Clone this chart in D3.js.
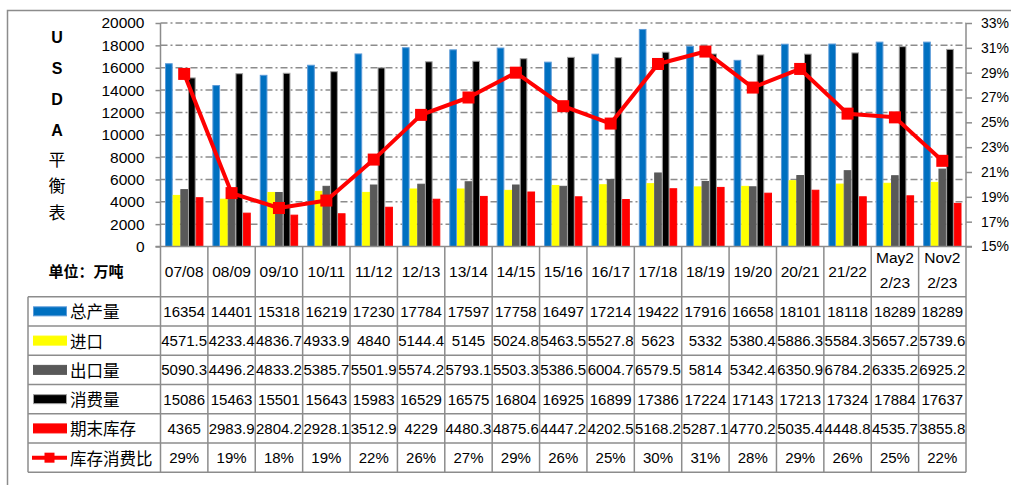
<!DOCTYPE html>
<html>
<head>
<meta charset="utf-8">
<script src="https://cdn.jsdelivr.net/npm/d3@7"></script>
<style>
  body { margin: 0; background: #fff; }
  svg { display: block; }
</style>
</head>
<body>
<svg id="chart" width="1011" height="485"></svg>
<script>
// Marketing years (last two columns are the May and Nov estimates for 22/23)
const seasons = ["07/08","08/09","09/10","10/11","11/12","12/13","13/14","14/15","15/16",
                 "16/17","17/18","18/19","19/20","20/21","21/22","May22/23","Nov22/23"];

// Balance sheet rows, 万吨
const production   = [16354,14401,15318,16219,17230,17784,17597,17758,16497,17214,19422,17916,16658,18101,18118,18289,18289];
const imports      = [4571.5,4233.4,4836.7,4933.9,4840,5144.4,5145,5024.8,5463.5,5527.8,5623,5332,5380.4,5886.3,5584.3,5657.2,5739.6];
const exports      = [5090.3,4496.2,4833.2,5385.7,5501.9,5574.2,5793.1,5503.3,5386.5,6004.7,6579.5,5814,5342.4,6350.9,6784.2,6335.2,6925.2];
const consumption  = [15086,15463,15501,15643,15983,16529,16575,16804,16925,16899,17386,17224,17143,17213,17324,17884,17637];
const endingStocks = [4365,2983.9,2804.2,2928.1,3512.9,4229,4480.3,4875.6,4447.2,4202.5,5168.2,5287.1,4770.2,5035.4,4448.8,4535.7,3855.8];
// Stocks-to-use ratio
const stockRatio   = [0.289,0.193,0.181,0.187,0.220,0.256,0.270,0.290,0.263,0.249,0.297,0.307,0.278,0.293,0.257,0.254,0.219];

const seriesNames = ["总产量","进口","出口量","消费量","期末库存","库存消费比"];
const leftTicks   = [0,2000,4000,6000,8000,10000,12000,14000,16000,18000,20000];
const rightTicks  = [0.15,0.17,0.19,0.21,0.23,0.25,0.27,0.29,0.31,0.33];
const titleText   = "USDA平衡表";
const unitText    = "单位：万吨";

const barSeries = [
  { name: seriesNames[0], values: production,   fill: "#0070c0", stroke: "#5a9ad8" },
  { name: seriesNames[1], values: imports,      fill: "#ffff00", stroke: "#ffff00" },
  { name: seriesNames[2], values: exports,      fill: "#595959", stroke: "#595959" },
  { name: seriesNames[3], values: consumption,  fill: "#000000", stroke: "#a0a0a0" },
  { name: seriesNames[4], values: endingStocks, fill: "#ff0000", stroke: "#ff0000" }
];

const svg = d3.select("#chart");
const GRID = "#8c8c8c";
const NUM_FONT = "'Liberation Sans', Arial, sans-serif";
const CJK_FONT = "'Noto Sans CJK SC', sans-serif";

// layout
const plotL = 160.5, plotR = 966, plotT = 23, plotB = 246.5;
const tableL = 28, headerB = 296.7, rowH = 29.27;
const tableB = headerB + rowH * 6;

const x = d3.scaleBand().domain(seasons).range([plotL, plotR]).paddingInner(0).paddingOuter(0);
const inner = d3.scaleBand().domain(barSeries.map(s => s.name)).range([4.5, x.bandwidth() - 4.5]);
const yL = d3.scaleLinear().domain([0, 20000]).range([plotB, plotT]);
const yR = d3.scaleLinear().domain([0.15, 0.33]).range([plotB, plotT]);

// outer frame
svg.append("rect").attr("x", 7.5).attr("y", 10.5).attr("width", 1010).attr("height", 480)
  .attr("fill", "none").attr("stroke", GRID).attr("stroke-width", 1.5);

// dash-dot gridlines
svg.append("g").selectAll("line").data(leftTicks.filter(t => t > 0)).join("line")
  .attr("x1", plotL).attr("x2", plotR)
  .attr("y1", d => yL(d)).attr("y2", d => yL(d))
  .attr("stroke", GRID).attr("stroke-width", 1.5).attr("stroke-dasharray", "7,3,2,3");

// left axis
const axL = svg.append("g").attr("transform", `translate(${plotL},0)`)
  .call(d3.axisLeft(yL).tickValues(leftTicks).tickSize(5).tickPadding(11).tickFormat(d3.format("d")));
axL.select(".domain").remove();
axL.selectAll("line").attr("stroke", GRID).attr("stroke-width", 1.5);
axL.selectAll("text").attr("font-family", NUM_FONT).attr("font-size", 15.5).attr("fill", "#000");

// right axis
const axR = svg.append("g").attr("transform", `translate(${plotR},0)`)
  .call(d3.axisRight(yR).tickValues(rightTicks).tickSize(6).tickPadding(9).tickFormat(d3.format(".0%")));
axR.select(".domain").remove();
axR.selectAll("line").attr("stroke", GRID).attr("stroke-width", 1.5);
axR.selectAll("text").attr("font-family", NUM_FONT).attr("font-size", 14).attr("fill", "#000");

// bars
const barG = svg.append("g");
barSeries.forEach(s => {
  barG.append("g").selectAll("rect").data(seasons).join("rect")
    .attr("x", (d) => x(d) + inner(s.name) + 0.5)
    .attr("width", inner.bandwidth() - 1)
    .attr("y", (d, i) => yL(s.values[i]))
    .attr("height", (d, i) => plotB - yL(s.values[i]))
    .attr("fill", s.fill).attr("stroke", s.stroke).attr("stroke-width", 1);
});

// table and axis lines
const lines = svg.append("g").attr("stroke", GRID).attr("stroke-width", 1.5);
lines.append("line").attr("x1", plotL - 5).attr("x2", plotR + 6).attr("y1", plotB).attr("y2", plotB);
lines.append("line").attr("x1", plotL).attr("x2", plotL).attr("y1", plotT).attr("y2", tableB);
lines.append("line").attr("x1", plotR).attr("x2", plotR).attr("y1", plotT).attr("y2", tableB);
lines.append("line").attr("x1", tableL).attr("x2", tableL).attr("y1", headerB).attr("y2", tableB);
lines.selectAll(".vsep").data(seasons.slice(1)).join("line").attr("class", "vsep")
  .attr("x1", d => x(d)).attr("x2", d => x(d)).attr("y1", plotB).attr("y2", tableB);
lines.selectAll(".hsep").data(d3.range(7)).join("line").attr("class", "hsep")
  .attr("x1", tableL).attr("x2", plotR)
  .attr("y1", k => headerB + k * rowH).attr("y2", k => headerB + k * rowH);

// stocks-to-use line
const ratioPts = seasons.map((s, i) => ({ s, v: stockRatio[i] }));
svg.append("path").datum(ratioPts)
  .attr("d", d3.line().x(d => x(d.s) + x.bandwidth() / 2).y(d => yR(d.v)))
  .attr("fill", "none").attr("stroke", "#ff0000").attr("stroke-width", 4).attr("stroke-linejoin", "round");
svg.append("g").selectAll("rect").data(ratioPts).join("rect")
  .attr("x", d => x(d.s) + x.bandwidth() / 2 - 6).attr("y", d => yR(d.v) - 6)
  .attr("width", 12).attr("height", 12).attr("fill", "#ff0000");

// vertical title
let ty = 37;
const titleG = svg.append("g");
Array.from(titleText).forEach((ch, i, arr) => {
  const latin = /[A-Za-z]/.test(ch);
  titleG.append("text").attr("x", 57).attr("y", ty).attr("text-anchor", "middle")
    .attr("dominant-baseline", "central")
    .attr("font-family", latin ? NUM_FONT : CJK_FONT)
    .attr("font-weight", latin ? "bold" : "normal")
    .attr("font-size", latin ? 16 : 17).text(ch);
  const next = arr[i + 1];
  ty += (next && /[A-Za-z]/.test(next)) ? 31 : (latin ? 28 : 26.5);
});

// unit caption
svg.append("text").attr("x", 86).attr("y", 270).attr("text-anchor", "middle")
  .attr("dominant-baseline", "central").attr("font-family", CJK_FONT).attr("font-weight", "bold")
  .attr("font-size", 15).text(unitText);

// column headers
const head = svg.append("g").attr("font-family", NUM_FONT).attr("font-size", 15.5).attr("text-anchor", "middle");
seasons.forEach(s => {
  const cx = x(s) + x.bandwidth() / 2;
  if (s.length > 5) {
    head.append("text").attr("x", cx).attr("y", 257).attr("dominant-baseline", "central").text(s.slice(0, 4));
    head.append("text").attr("x", cx).attr("y", 282).attr("dominant-baseline", "central").text(s.slice(4));
  } else {
    head.append("text").attr("x", cx).attr("y", 271.6).attr("dominant-baseline", "central").text(s);
  }
});

// table rows: legend keys + values
const rows = barSeries.map(s => ({ name: s.name, cells: s.values.map(v => String(v)), key: s }))
  .concat([{ name: seriesNames[5], cells: stockRatio.map(d3.format(".0%")), key: null }]);
const tbl = svg.append("g");
rows.forEach((r, k) => {
  const cy = headerB + k * rowH + rowH / 2;
  if (r.key) {
    tbl.append("rect").attr("x", 33.5).attr("y", cy - 4.5).attr("width", 33).attr("height", 9)
      .attr("fill", r.key.fill).attr("stroke", r.key.stroke).attr("stroke-width", 1);
  } else {
    tbl.append("line").attr("x1", 32).attr("x2", 67).attr("y1", cy).attr("y2", cy)
      .attr("stroke", "#ff0000").attr("stroke-width", 4);
    tbl.append("rect").attr("x", 44.5).attr("y", cy - 5).attr("width", 10).attr("height", 10).attr("fill", "#ff0000");
  }
  tbl.append("text").attr("x", 70).attr("y", cy).attr("dominant-baseline", "central")
    .attr("font-family", CJK_FONT).attr("font-size", 16.5).attr("fill", "#000").text(r.name);
  tbl.append("g").selectAll("text").data(r.cells).join("text")
    .attr("x", (d, i) => x(seasons[i]) + x.bandwidth() / 2).attr("y", cy)
    .attr("text-anchor", "middle").attr("dominant-baseline", "central")
    .attr("font-family", NUM_FONT).attr("font-size", 15).attr("fill", "#000").text(d => d);
});
</script>
</body>
</html>
